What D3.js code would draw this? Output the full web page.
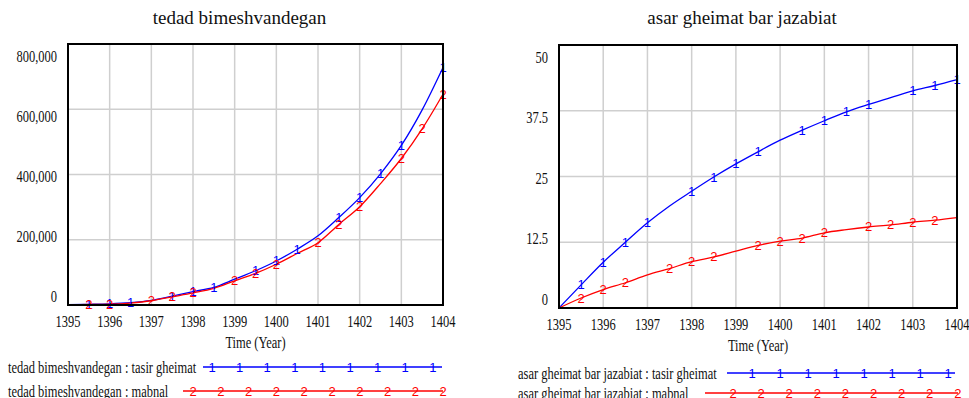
<!DOCTYPE html>
<html>
<head>
<meta charset="utf-8">
<script src="https://cdn.jsdelivr.net/npm/d3@7"></script>
<style>
  body { margin: 0; background: #fff; }
  svg { display: block; }
</style>
</head>
<body>
<svg id="chart" width="969" height="398"></svg>
<script>
// ---- data ----
const years = [1395, 1395.5, 1396, 1396.5, 1397, 1397.5, 1398, 1398.5, 1399, 1399.5,
               1400, 1400.5, 1401, 1401.5, 1402, 1402.5, 1403, 1403.5, 1404];
const yearTicks = [1395, 1396, 1397, 1398, 1399, 1400, 1401, 1402, 1403, 1404];

const tedadTasir  = [1000, 2000, 3500, 7000, 14000, 27000, 41000, 54000, 79000, 105000,
                     135000, 171000, 212000, 268000, 329000, 402000, 489000, 598000, 728000];
const tedadMabnal = [1000, 1500, 2500, 6000, 13000, 25000, 37000, 51000, 74000, 97000,
                     125000, 158000, 191000, 247000, 301000, 372000, 449000, 540000, 646000];
const tedadTasirMarks  = [1395.5, 1396, 1396.5, 1397.5, 1398, 1398.5, 1399.5, 1400, 1400.5, 1401.5, 1402, 1402.5, 1403, 1404];
const tedadMabnalMarks = [1395.5, 1396, 1397, 1397.5, 1398, 1399, 1399.5, 1400, 1401, 1401.5, 1402, 1403, 1403.5, 1404];
const tedadTicks = [0, 200000, 400000, 600000, 800000];

const asarTasir  = [0, 4.4, 8.7, 12.5, 16.2, 19.4, 22.2, 24.9, 27.4, 29.7,
                    31.9, 33.8, 35.6, 37.3, 38.7, 40.0, 41.3, 42.3, 43.4];
const asarMabnal = [0, 1.9, 3.5, 4.8, 6.3, 7.5, 8.8, 9.7, 10.8, 11.9,
                    12.7, 13.3, 14.3, 14.9, 15.4, 15.8, 16.3, 16.7, 17.2];
const asarTasirMarks  = [1395.5, 1396, 1396.5, 1397, 1398, 1398.5, 1399, 1399.5, 1400.5, 1401, 1401.5, 1402, 1403, 1403.5, 1404];
const asarMabnalMarks = [1395.5, 1396, 1396.5, 1397.5, 1398, 1398.5, 1399.5, 1400, 1400.5, 1401, 1402, 1402.5, 1403, 1403.5];
const asarTicks = [0, 12.5, 25, 37.5, 50];

const BLUE = "#0000ff", RED = "#ff0000";
const SERIF = "'Liberation Serif', 'Times New Roman', serif";
const SQUEEZE = 0.78;

const svg = d3.select("#chart");

// condensed serif text, like the original export
function label(g, txt, x, y, size, anchor, sx) {
  return g.append("text")
    .attr("transform", "translate(" + x + "," + y + ") scale(" + (sx || SQUEEZE) + ",1)")
    .attr("text-anchor", anchor || "middle")
    .attr("dominant-baseline", "central")
    .style("font-family", SERIF)
    .style("font-size", size + "px")
    .attr("fill", "#111")
    .text(txt);
}

function marker(g, glyph, x, y, color) {
  g.append("text")
    .attr("x", x).attr("y", y)
    .attr("text-anchor", "middle")
    .attr("dominant-baseline", "central")
    .style("font-family", "'Liberation Sans', Arial, sans-serif")
    .style("font-size", "13px")
    .attr("fill", color)
    .text(glyph);
}

function drawPanel(p) {
  const g = svg.append("g");
  const x = d3.scaleLinear().domain([1395, 1404]).range([p.left, p.right]);
  const y = d3.scaleLinear().domain([0, p.ticks[p.ticks.length - 1]]).range([p.bottom, p.top]);
  // tick labels are spread a bit inside the frame
  const yLab = d3.scaleLinear().domain(y.domain()).range([p.bottom - 9, p.top + 12]);

  // grid
  g.append("g").selectAll("line.v").data(yearTicks).enter().append("line")
    .attr("x1", d => x(d)).attr("x2", d => x(d))
    .attr("y1", p.top).attr("y2", p.bottom)
    .attr("stroke", "#cfcfcf").attr("stroke-width", 1.5);
  g.append("g").selectAll("line.h").data(p.ticks).enter().append("line")
    .attr("x1", p.left).attr("x2", p.right)
    .attr("y1", d => y(d)).attr("y2", d => y(d))
    .attr("stroke", "#cfcfcf").attr("stroke-width", 1.5);

  // series
  const line = d3.line().x(d => x(d[0])).y(d => y(d[1])).curve(d3.curveMonotoneX);
  p.series.forEach(s => {
    const pts = years.map((yr, i) => [yr, s.values[i]]);
    g.append("path").datum(pts)
      .attr("d", line)
      .attr("fill", "none")
      .attr("stroke", s.color)
      .attr("stroke-width", 1.3);
  });
  p.series.forEach(s => {
    s.marks.forEach(m => {
      const v = s.values[years.indexOf(m)];
      marker(g, s.glyph, x(m), y(v), s.color);
    });
  });

  // frame
  g.append("rect")
    .attr("x", p.left).attr("y", p.top)
    .attr("width", p.right - p.left).attr("height", p.bottom - p.top)
    .attr("fill", "none").attr("stroke", "#000").attr("stroke-width", 2);

  // axis labels
  yearTicks.forEach(t => label(g, t, x(t), p.bottom + 16, 16));
  p.ticks.forEach(t => label(g, p.fmt(t), p.left - 11, yLab(t), 16, "end"));
  label(g, "Time (Year)", (p.left + p.right) / 2, p.bottom + 37, 16);
  label(g, p.title, (p.left + p.right) / 2 - 16, 17, 19, "middle", 1);

  // legend
  p.series.forEach((s, i) => {
    const lg = p.legend[i];
    label(g, p.title + " : " + s.name, lg.tx, lg.y, 16, "start");
    g.append("line")
      .attr("x1", lg.x1).attr("x2", lg.x2)
      .attr("y1", lg.y).attr("y2", lg.y)
      .attr("stroke", s.color).attr("stroke-width", 1.3);
    d3.range(lg.n).forEach(k => marker(g, s.glyph, lg.m0 + k * lg.step, lg.y, s.color));
  });
}

drawPanel({
  title: "tedad bimeshvandegan",
  left: 68, right: 443, top: 44, bottom: 305,
  ticks: tedadTicks, fmt: d3.format(","),
  series: [
    { name: "tasir gheimat", values: tedadTasir, marks: tedadTasirMarks, color: BLUE, glyph: "1" },
    { name: "mabnal", values: tedadMabnal, marks: tedadMabnalMarks, color: RED, glyph: "2" }
  ],
  legend: [
    { tx: 8, y: 367, x1: 203, x2: 442, m0: 212, step: 27.6, n: 9 },
    { tx: 8, y: 391, x1: 183, x2: 443, m0: 193, step: 27.8, n: 10 }
  ]
});

drawPanel({
  title: "asar gheimat bar jazabiat",
  left: 559, right: 957, top: 45, bottom: 308,
  ticks: asarTicks, fmt: d => String(d),
  series: [
    { name: "tasir gheimat", values: asarTasir, marks: asarTasirMarks, color: BLUE, glyph: "1" },
    { name: "mabnal", values: asarMabnal, marks: asarMabnalMarks, color: RED, glyph: "2" }
  ],
  legend: [
    { tx: 518, y: 373, x1: 727, x2: 955, m0: 752, step: 28, n: 8 },
    { tx: 518, y: 393, x1: 705, x2: 958, m0: 733, step: 28.1, n: 9 }
  ]
});
</script>
</body>
</html>
